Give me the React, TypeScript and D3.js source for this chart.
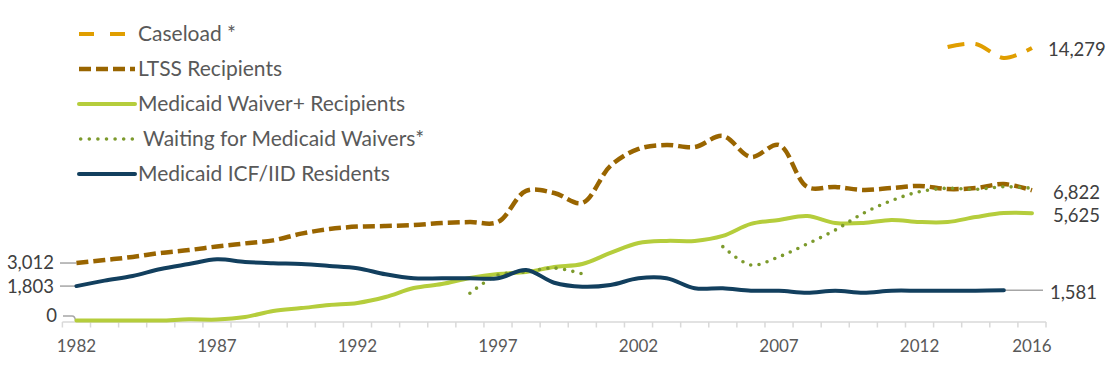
import React from 'react';
import * as d3 from 'd3';

const years: number[] = [1982,1983,1984,1985,1986,1987,1988,1989,1990,1991,1992,1993,1994,1995,1996,1997,1998,1999,2000,2001,2002,2003,2004,2005,2006,2007,2008,2009,2010,2011,2012,2013,2014,2015,2016];

const caseload: (number|null)[] = [null,null,null,null,null,null,null,null,null,null,null,null,null,null,null,null,null,null,null,null,null,null,null,null,null,null,null,null,null,null,null,14330,14490,13760,14279];
const ltss: (number|null)[] = [3012,3170,3330,3540,3690,3880,4040,4200,4550,4790,4920,4950,5000,5110,5160,5160,6790,6680,6160,8100,8990,9200,9090,9670,8570,9200,7000,7000,6840,6940,7050,6890,6940,7150,6822];
const waiver: (number|null)[] = [0,0,0,0,60,50,180,500,650,810,920,1230,1700,1910,2230,2440,2540,2800,2960,3540,4060,4170,4170,4430,5060,5270,5480,5110,5110,5270,5160,5160,5420,5630,5625];
const waiting: (number|null)[] = [null,null,null,null,null,null,null,null,null,null,null,null,null,null,1430,2380,2550,2750,2440,null,null,null,null,3870,2910,3340,4010,4740,5620,6280,6750,6930,6870,7010,6930];
const icf: (number|null)[] = [1803,2090,2330,2700,2960,3210,3070,3000,2960,2860,2740,2420,2210,2210,2210,2210,2650,1980,1770,1860,2210,2210,1690,1690,1560,1560,1460,1560,1460,1560,1560,1560,1560,1581,null];

const xTickLabels: number[] = [1982,1987,1992,1997,2002,2007,2012,2016];

const legendNames = ['Caseload *','LTSS Recipients','Medicaid Waiver+ Recipients',' Waiting for Medicaid Waivers*','Medicaid ICF/IID Residents'];

const FONT = 'Lato, "Open Sans", sans-serif';

interface SeriesStyle { name: string; data: (number|null)[]; color: string; width: number; dash?: string; cap: 'butt'|'round'; legendDash?: string; }

const series: SeriesStyle[] = [
  { name: legendNames[0], data: caseload, color: '#E09E00', width: 4, dash: '17,11', cap: 'butt', legendDash: '15,16' },
  { name: legendNames[1], data: ltss, color: '#996500', width: 4.5, dash: '12,5', cap: 'butt', legendDash: '12,5' },
  { name: legendNames[2], data: waiver, color: '#B5CD3C', width: 4, cap: 'round' },
  { name: legendNames[3], data: waiting, color: '#7C9A2C', width: 3.6, dash: '0,8.4', cap: 'round', legendDash: '0,8.6' },
  { name: legendNames[4], data: icf, color: '#123F5E', width: 4, cap: 'round' },
];

export default function App() {
  const W = 1112, H = 365;
  const x = d3.scaleBand<number>().domain(years).range([62.4, 1046]).padding(0);
  const cx = (yr: number) => (x(yr) as number) + x.bandwidth() / 2;
  const y = d3.scaleLinear().domain([0, 16000]).range([320.5, 320.5 - 16000 / 52.4]);
  const axisY = y(0) + 1.5;
  const fmt = d3.format(',');

  const line = d3.line<[number, number | null]>()
    .defined(d => d[1] != null)
    .x(d => cx(d[0]))
    .y(d => y(d[1] as number))
    .curve(d3.curveCatmullRom.alpha(0.5));

  const boundaries = years.map(yr => x(yr) as number).concat([(x(years[years.length - 1]) as number) + x.bandwidth()]);

  const lastIdx = (arr: (number|null)[]) => { let i = arr.length - 1; while (i >= 0 && arr[i] == null) i--; return i; };

  const iICF = lastIdx(icf);
  const icfEndX = cx(years[iICF]);
  const last2016 = cx(years[years.length - 1]);

  const labelColor = '#404040';
  const textColor = '#595959';
  const leader = '#A6A6A6';

  return (
    <svg width={W} height={H} style={{ position: 'absolute', left: 0, top: 0, background: '#fff' }} fontFamily={FONT}>
      {/* x axis */}
      <line x1={boundaries[0]} x2={boundaries[boundaries.length - 1]} y1={axisY} y2={axisY} stroke="#D9D9D9" strokeWidth={1.5} />
      {boundaries.map((b, i) => (
        <line key={i} x1={b} x2={b} y1={axisY} y2={axisY + 5.5} stroke="#D9D9D9" strokeWidth={1.5} />
      ))}
      {xTickLabels.map(t => (
        <text key={t} x={cx(t)} y={352} textAnchor="middle" fontSize={17} fill={textColor}>{t}</text>
      ))}

      {/* left leader lines & labels */}
      {[ltss[0] as number, icf[0] as number].map((v, i) => (
        <g key={i}>
          <line x1={60} x2={cx(years[0])} y1={y(v)} y2={y(v)} stroke={leader} strokeWidth={1.5} />
          <text x={54} y={y(v)} dy="0.35em" textAnchor="end" fontSize={18.5} fill={labelColor}>{fmt(v)}</text>
        </g>
      ))}
      <path d={`M63,${y(0) - 4.5} H72 Q75,${y(0) - 4.5} 75.5,${y(0)}`} fill="none" stroke={leader} strokeWidth={1.5} />
      <text x={57} y={y(0) - 4.5} dy="0.35em" textAnchor="end" fontSize={18.5} fill={labelColor}>{fmt(waiver[0] as number)}</text>

      {/* right leader line for ICF */}
      <line x1={icfEndX} x2={1043} y1={y(icf[iICF] as number)} y2={y(icf[iICF] as number)} stroke={leader} strokeWidth={1.5} />

      {/* series */}
      {series.map(s => (
        <path key={s.name}
          d={line(years.map((yr, i) => [yr, s.data[i]] as [number, number | null])) || ''}
          fill="none" stroke={s.color} strokeWidth={s.width}
          strokeDasharray={s.dash} strokeLinecap={s.cap} strokeLinejoin="round" />
      ))}

      {/* right labels */}
      <text x={last2016 + 16} y={y(caseload[caseload.length - 1] as number) + 2} dy="0.35em" fontSize={18.5} fill={labelColor}>{fmt(caseload[caseload.length - 1] as number)}</text>
      <text x={last2016 + 21} y={y(ltss[ltss.length - 1] as number) + 2.5} dy="0.35em" fontSize={18.5} fill={labelColor}>{fmt(ltss[ltss.length - 1] as number)}</text>
      <text x={last2016 + 21} y={y(waiver[waiver.length - 1] as number) + 2} dy="0.35em" fontSize={18.5} fill={labelColor}>{fmt(waiver[waiver.length - 1] as number)}</text>
      <text x={last2016 + 18} y={y(icf[iICF] as number) + 2.5} dy="0.35em" fontSize={18.5} fill={labelColor}>{fmt(icf[iICF] as number)}</text>

      {/* legend */}
      {series.map((s, i) => {
        const ly = 34 + i * 35;
        const isDot = i === 3;
        const x1 = isDot ? 80.7 : 79;
        const x2 = i === 0 ? 127 : isDot ? 133 : 135;
        return (
          <g key={s.name}>
            <line x1={x1} x2={x2} y1={ly} y2={ly} stroke={s.color} strokeWidth={s.width}
              strokeDasharray={s.legendDash} strokeLinecap={s.cap} />
            <text x={138} y={ly} dy="0.35em" fontSize={21} fill={textColor} style={{ whiteSpace: 'pre' }}>{s.name}</text>
          </g>
        );
      })}
    </svg>
  );
}
